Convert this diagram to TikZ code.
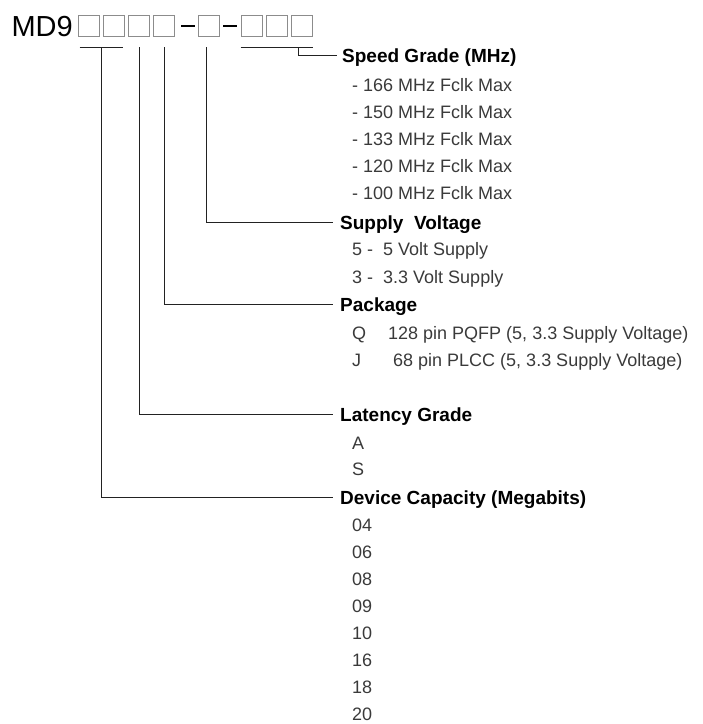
\documentclass[tikz,border=0pt]{standalone}
\usepackage{fontspec}
\setmainfont{Liberation Sans}
\usepackage{tikz}
\usetikzlibrary{calc,positioning}
\definecolor{pnline}{HTML}{222222}
\definecolor{pnbox}{HTML}{8C8C8C}
\definecolor{pnitem}{HTML}{3A3A3A}

\begin{document}
\begin{tikzpicture}[x=1pt,y=-1pt,
  digitbox/.style={draw=pnbox,line width=1.3pt,minimum width=21.5pt,minimum height=21.5pt,inner sep=0pt},
  sepbar/.style={fill=black,minimum width=14pt,minimum height=2.8pt,inner sep=0pt},
  lead/.style={draw=pnline,line width=0.9pt},
  head/.style={anchor=west,inner sep=0pt,text height=14pt,text depth=0pt,font=\fontsize{19}{22}\selectfont\bfseries},
  item/.style={anchor=west,inner sep=0pt,text height=13pt,text depth=0pt,text=pnitem,font=\fontsize{18}{21}\selectfont}]
\useasboundingbox (0,0) rectangle (703,724);
%% part number with its digit boxes
\node[anchor=east,inner sep=0pt,text height=21pt,text depth=0pt,font=\fontsize{29}{32}\selectfont] (md) at (73,25.5) {MD9};
\foreach \n/\x in {1/89,2/114,3/139,4/164,5/209,6/252,7/277,8/302}
  \node[digitbox] (b\n) at (\x,26) {};
\node[sepbar] (sep1) at (187.5,26) {};
\node[sepbar] (sep2) at (230,26) {};
%% speed grade
\node[head] (spd) at (342,55) {Speed Grade (MHz)};
\foreach \t [count=\i] in {166,150,133,120,100}
  \node[item] (spd-\i) at (352,58+27*\i) {- \t\ MHz Fclk Max};
%% supply voltage
\node[head] (vcc) at (340,222) {Supply\ \ Voltage};
\node[item] (vcc-1) at (352,249) {\makebox[31pt][l]{5 -}5 Volt Supply};
\node[item] (vcc-2) at (352,277) {\makebox[31pt][l]{3 -}3.3 Volt Supply};
%% package
\node[head] (pkg) at (340,304) {Package};
\node[item] (pkg-1) at (352,333) {\makebox[36pt][l]{Q}128 pin PQFP (5, 3.3 Supply Voltage)};
\node[item] (pkg-2) at (352,360) {\makebox[41pt][l]{J}68 pin PLCC (5, 3.3 Supply Voltage)};
%% latency grade
\node[head] (lat) at (340,414) {Latency Grade};
\node[item] (lat-1) at (352,443) {A};
\node[item] (lat-2) at (352,469) {S};
%% device capacity
\node[head] (cap) at (340,497) {Device Capacity (Megabits)};
\foreach \t [count=\i] in {04,06,08,09,10,16,18,20}
  \node[item] (cap-\i) at (352,497.5+27.1*\i) {\t};
%% leaders from the boxes to the fields
\draw[lead] ($(b1.south west)+(2,10)$) -- ($(b2.south east)+(-2,10)$);
\draw[lead] ($(b1.south east)!0.5!(b2.south west)+(0,10)$) |- ([xshift=-7pt]cap.west);
\draw[lead] ($(b3.south)+(0,10)$) |- ([xshift=-7pt]lat.west);
\draw[lead] ($(b4.south)+(0,10)$) |- ([xshift=-7pt]pkg.west);
\draw[lead] ($(b5.south)+(-3,10)$) |- ([xshift=-7pt]vcc.west);
\draw[lead] ($(b6.south west)+(0,10)$) -- ($(b8.south east)+(0,10)$);
\draw[lead] ($(b8.south)+(-4,10)$) |- ([xshift=-5pt]spd.west);
\end{tikzpicture}
\end{document}
